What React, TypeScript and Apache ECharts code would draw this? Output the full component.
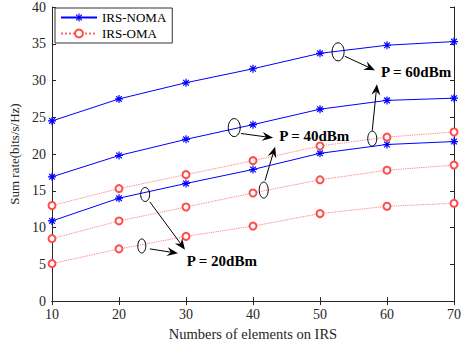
import React, { useEffect, useRef } from "react";
import * as echarts from "echarts";

const elements = [10, 20, 30, 40, 50, 60, 70];
const noma60 = [24.5, 27.5, 29.7, 31.6, 33.7, 34.8, 35.3];
const noma40 = [16.9, 19.8, 22.0, 24.0, 26.1, 27.3, 27.6];
const noma20 = [10.9, 14.0, 16.0, 17.9, 20.1, 21.3, 21.7];
const oma60 = [13.0, 15.3, 17.2, 19.1, 21.1, 22.3, 23.0];
const oma40 = [8.5, 10.9, 12.8, 14.7, 16.5, 17.8, 18.5];
const oma20 = [5.1, 7.1, 8.8, 10.2, 11.9, 12.9, 13.3];

// annotations in data coordinates
const annoLabels = ["P = 60dBm", "P = 40dBm", "P = 20dBm"];
const annoTextPos = [[59.1, 31.2], [43.9, 22.4], [30.1, 5.4]];
const annoEllipses = [
  [[52.7, 33.9, 6, 9], [57.8, 22.1, 4.5, 7.5]],
  [[37.2, 23.6, 6, 9], [41.6, 15.1, 4.5, 8]],
  [[23.9, 14.5, 4.5, 7], [23.4, 7.5, 4, 7]],
];
const annoArrows = [
  [[[53.7, 33.3], [58.2, 31.4]], [[57.8, 23.2], [58.5, 29.5]]],
  [[[38.2, 22.8], [43.0, 22.2]], [[41.8, 16.4], [43.3, 21.0]]],
  [[[24.6, 13.5], [29.85, 7.0]], [[24.6, 7.1], [28.8, 6.5]]],
];

const FONT = "Liberation Serif";
const BLUE = "#0000ff";
const RED = "#ff4d4d";
const AXIS = "#262626";

const STAR =
  "path://M-0.15,-1L0.15,-1L0.15,1L-0.15,1Z M-1,-0.15L1,-0.15L1,0.15L-1,0.15Z M-0.601,-0.813L0.813,0.601L0.601,0.813L-0.813,-0.601Z M-0.813,0.601L0.601,-0.813L0.813,-0.601L-0.601,0.813Z";

export default function App() {
  const ref = useRef<HTMLDivElement>(null);
  useEffect(() => {
    if (!ref.current) return;
    const chart = echarts.init(ref.current, undefined, { renderer: "svg" });
    const nomaSeries = (d: number[]) => ({
      name: "IRS-NOMA",
      type: "line",
      data: elements.map((x, i) => [x, d[i]]),
      symbol: STAR,
      symbolSize: 8,
      lineStyle: { color: BLUE, width: 1 },
      itemStyle: { color: BLUE },
    });
    const omaSeries = (d: number[]) => ({
      name: "IRS-OMA",
      type: "line",
      data: elements.map((x, i) => [x, d[i]]),
      symbol: "emptyCircle",
      symbolSize: 7,
      lineStyle: { color: RED, width: 0.9, type: "dotted", opacity: 0.85 },
      itemStyle: { color: RED, borderWidth: 0.6 },
    });
    const axisCommon = {
      axisLine: { show: true, lineStyle: { color: AXIS, width: 1 } },
      axisTick: { show: true, inside: true, length: 4, lineStyle: { color: AXIS } },
      splitLine: { show: false },
    };
    chart.setOption({
      animation: false,
      backgroundColor: "#ffffff",
      grid: { left: 52, right: 12, top: 7, bottom: 42 },
      legend: {
        left: 55,
        top: 8,
        orient: "vertical",
        data: ["IRS-NOMA", "IRS-OMA"],
        borderColor: "#333",
        borderWidth: 1,
        backgroundColor: "#fff",
        padding: [3, 6, 3, 5],
        itemGap: 3,
        itemWidth: 36,
        itemHeight: 10,
        textStyle: { fontFamily: FONT, fontSize: 13, color: "#000" },
      },
      xAxis: [
        {
          type: "value",
          min: 10,
          max: 70,
          interval: 10,
          position: "bottom",
          ...axisCommon,
          axisLabel: { fontFamily: FONT, fontSize: 14, color: AXIS, margin: 6 },
          name: "Numbers of elements on IRS",
          nameLocation: "middle",
          nameGap: 23,
          nameTextStyle: { fontFamily: FONT, fontSize: 14.5, color: AXIS },
        },
        {
          type: "value",
          min: 10,
          max: 70,
          interval: 10,
          position: "top",
          ...axisCommon,
          axisLabel: { show: false },
        },
      ],
      yAxis: [
        {
          type: "value",
          min: 0,
          max: 40,
          interval: 5,
          position: "left",
          ...axisCommon,
          axisLabel: { fontFamily: FONT, fontSize: 14, color: AXIS, margin: 6 },
          name: "Sum rate(bits/s/Hz)",
          nameLocation: "middle",
          nameGap: 31,
          nameTextStyle: { fontFamily: FONT, fontSize: 13, color: AXIS },
        },
        {
          type: "value",
          min: 0,
          max: 40,
          interval: 5,
          position: "right",
          ...axisCommon,
          axisLabel: { show: false },
        },
      ],
      series: [
        nomaSeries(noma60),
        nomaSeries(noma40),
        nomaSeries(noma20),
        omaSeries(oma60),
        omaSeries(oma40),
        omaSeries(oma20),
      ],
    });

    const px = (p: number[]) => chart.convertToPixel({ gridIndex: 0 }, p) as number[];
    const graphics: any[] = [];
    annoLabels.forEach((label, k) => {
      annoEllipses[k].forEach((e) => {
        const c = px([e[0], e[1]]);
        graphics.push({
          type: "ellipse",
          shape: { cx: c[0], cy: c[1], rx: e[2], ry: e[3] },
          style: { fill: "none", stroke: "#000", lineWidth: 1 },
          z: 100,
        });
      });
      annoArrows[k].forEach((a) => {
        const s = px(a[0]);
        const t = px(a[1]);
        const dx = t[0] - s[0];
        const dy = t[1] - s[1];
        const len = Math.sqrt(dx * dx + dy * dy);
        const ux = dx / len;
        const uy = dy / len;
        const nx = -uy;
        const ny = ux;
        const L = 11;
        const W = 4.5;
        const bx = t[0] - ux * L;
        const by = t[1] - uy * L;
        const mx = t[0] - ux * L * 0.65;
        const my = t[1] - uy * L * 0.65;
        graphics.push({
          type: "line",
          shape: { x1: s[0], y1: s[1], x2: mx, y2: my },
          style: { stroke: "#000", lineWidth: 1 },
          z: 100,
        });
        graphics.push({
          type: "polygon",
          shape: {
            points: [
              [t[0], t[1]],
              [bx + nx * W, by + ny * W],
              [mx, my],
              [bx - nx * W, by - ny * W],
            ],
          },
          style: { fill: "#000" },
          z: 100,
        });
      });
      const tp = px(annoTextPos[k]);
      graphics.push({
        type: "text",
        x: tp[0],
        y: tp[1],
        style: {
          text: label,
          fontFamily: FONT,
          fontSize: 15,
          fontWeight: "bold",
          fill: "#000",
          verticalAlign: "middle",
          align: "left",
        },
        z: 100,
      });
    });
    chart.setOption({ graphic: graphics });

    return () => chart.dispose();
  }, []);
  return (
    <div
      ref={ref}
      style={{ position: "absolute", left: 0, top: 0, width: 466, height: 346 }}
    />
  );
}
